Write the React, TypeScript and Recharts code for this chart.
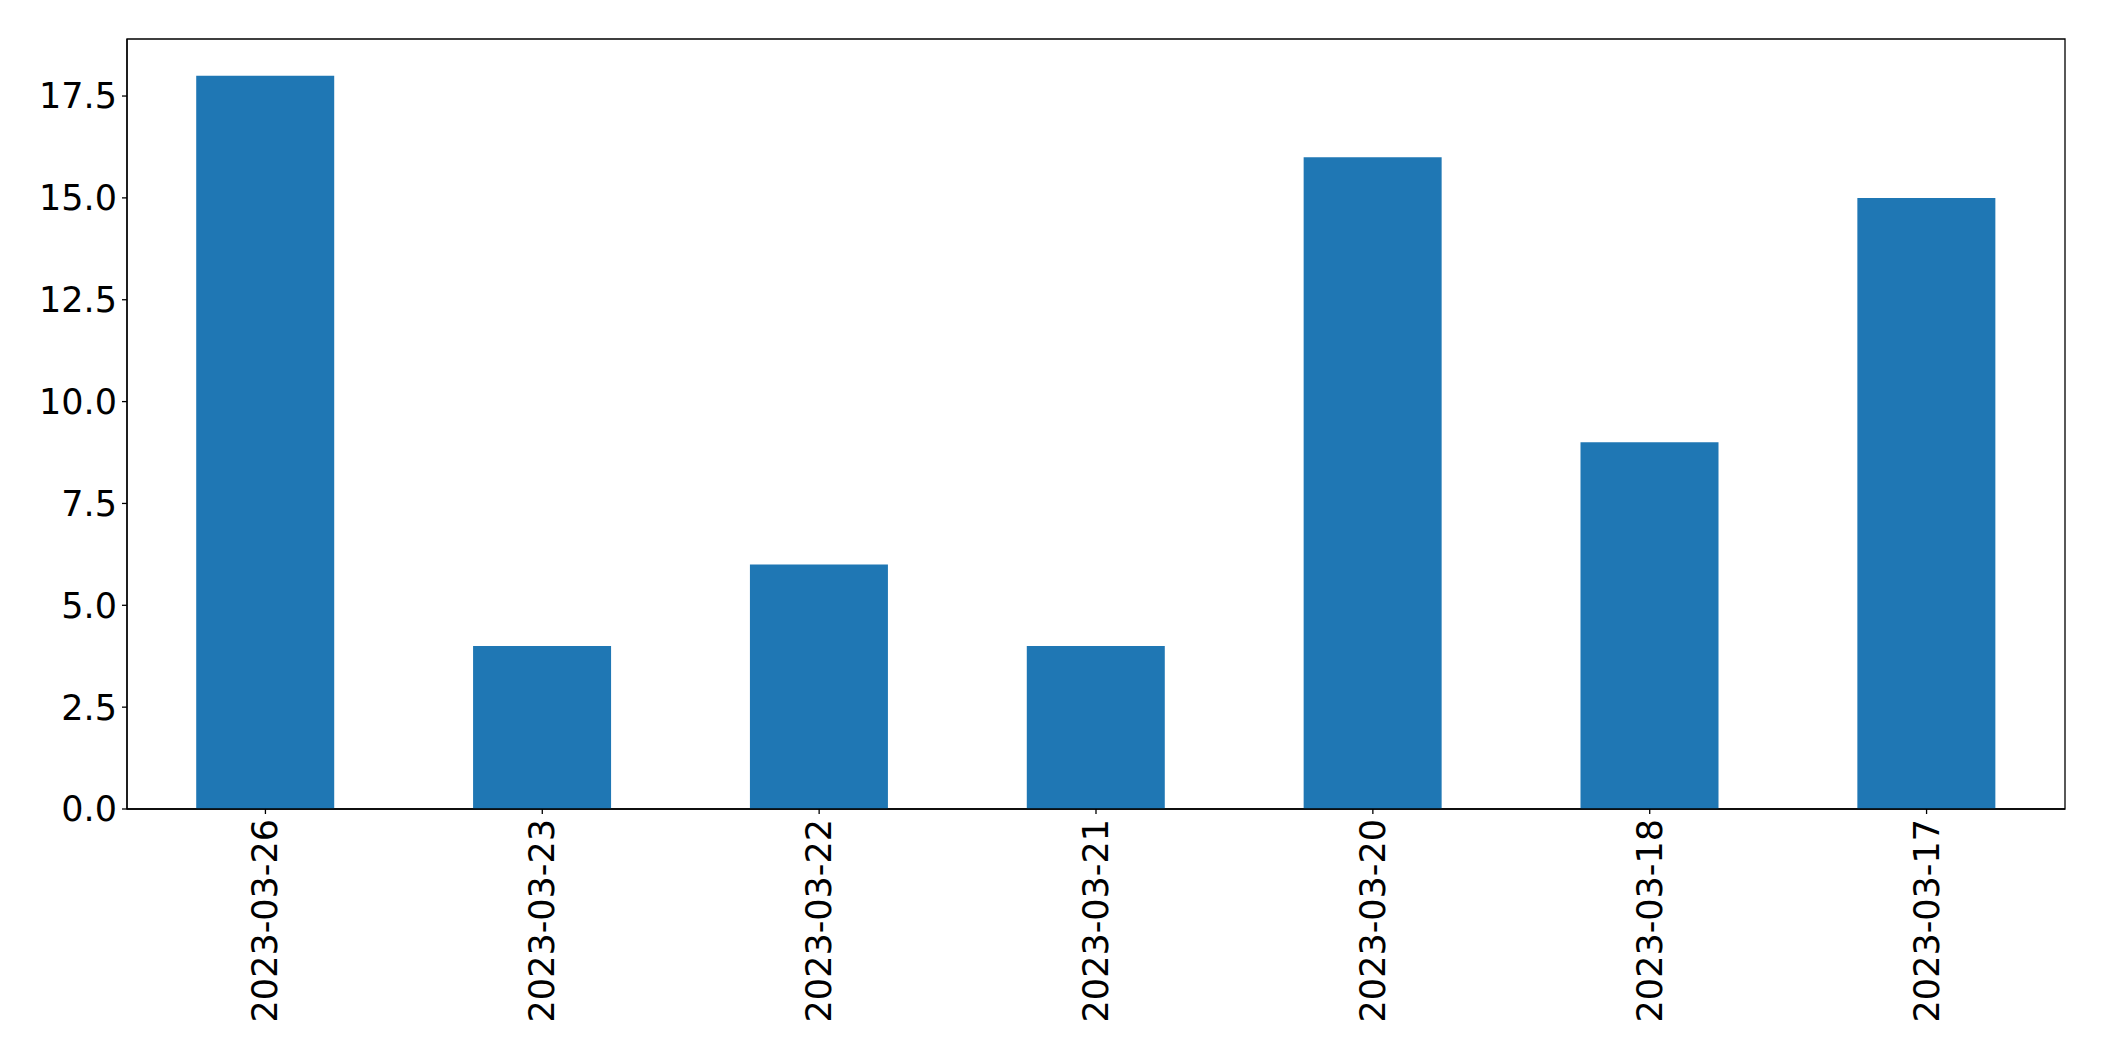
import { BarChart, Bar, XAxis, YAxis, ReferenceArea } from 'recharts';

const dates = ['2023-03-26', '2023-03-23', '2023-03-22', '2023-03-21', '2023-03-20', '2023-03-18', '2023-03-17'];
const counts = [18, 4, 6, 4, 16, 9, 15];
const yTicks = [0, 2.5, 5, 7.5, 10, 12.5, 15, 17.5];

const data = dates.map((d, i) => ({ date: d, count: counts[i] }));

const FONT = 'DejaVu Sans';
const FS = 35;

function DateTick({ x, y, payload }: { x?: number; y?: number; payload?: { value: string } }) {
  return (
    <text
      transform={`translate(${x},${y}) rotate(-90)`}
      textAnchor="end"
      dominantBaseline="central"
      fontFamily={FONT}
      fontSize={FS}
      fill="#000"
    >
      {payload?.value}
    </text>
  );
}

export default function App() {
  return (
    <div style={{ position: 'absolute', left: 0, top: 0, background: '#fff' }}>
      <BarChart
        width={2104}
        height={1061}
        data={data}
        barCategoryGap="25%"
        margin={{ top: 39, right: 39, bottom: 0, left: 0 }}
      >
        <XAxis
          dataKey="date"
          height={252}
          interval={0}
          tickSize={5}
          tickMargin={5}
          tick={<DateTick />}
          axisLine={{ stroke: '#000', strokeWidth: 1.3 }}
          tickLine={{ stroke: '#000', strokeWidth: 1.3 }}
        />
        <YAxis
          width={127}
          domain={[0, 18.9]}
          ticks={yTicks}
          interval={0}
          tickSize={5}
          tickMargin={5}
          tickFormatter={(v: number) => v.toFixed(1)}
          tick={{ fontFamily: FONT, fontSize: FS, fill: '#000' }}
          axisLine={{ stroke: '#000', strokeWidth: 1.3 }}
          tickLine={{ stroke: '#000', strokeWidth: 1.3 }}
        />
        <Bar dataKey="count" fill="#1f77b4" isAnimationActive={false} />
        <ReferenceArea y1={0} y2={18.9} fill="none" fillOpacity={0} stroke="#000" strokeWidth={1.3} ifOverflow="visible" />
      </BarChart>
    </div>
  );
}
